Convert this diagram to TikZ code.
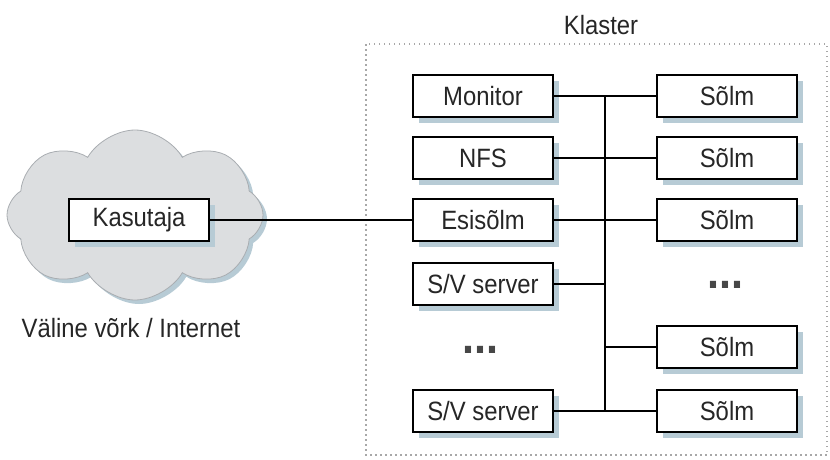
\documentclass[tikz,border=0pt]{standalone}
\usepackage{fontspec}
\setmainfont{Liberation Sans}[FakeStretch=0.9]
\usetikzlibrary{shapes.symbols,shadows}
\definecolor{txt}{HTML}{262626}
\definecolor{shade}{HTML}{B7CBD5}
\definecolor{cloudfill}{HTML}{DCDEE0}
\definecolor{cloudline}{HTML}{A9ADB1}
\definecolor{framegray}{HTML}{A8A8A8}
\tikzset{
  unit/.style={draw=black, line width=1.6pt, fill=white, text=txt,
    minimum width=140pt, minimum height=42pt, inner sep=0pt,
    font=\fontsize{26.5}{26.5}\selectfont,
    drop shadow={shadow xshift=6pt, shadow yshift=-6pt, fill=shade, opacity=1}},
  label/.style={text=txt, inner sep=0pt, font=\fontsize{26.5}{26.5}\selectfont},
  more/.style={text=txt!85, inner sep=0pt, font=\fontsize{48}{48}\selectfont\bfseries},
  wire/.style={line width=2.2pt, draw=black}
}
\begin{document}
\begin{tikzpicture}[x=1pt, y=-1pt]
\useasboundingbox (0,0) rectangle (830,459);

% external network cloud with its shadow
\node[cloud, cloud puffs=8, cloud puff arc=120, aspect=1.45,
  minimum width=256pt, minimum height=170pt, fill=shade, inner sep=0pt]
  (cloudshadow) at (139,219) {};
\node[cloud, cloud puffs=8, cloud puff arc=120, aspect=1.45,
  minimum width=256pt, minimum height=170pt, fill=cloudfill,
  draw=cloudline, line width=0.8pt, inner sep=0pt]
  (cloud) at (135,215) {};
\node[label] (net) at (131,328) {Väline võrk / Internet};

% cluster frame
\draw[framegray, line width=1.2pt, dash pattern=on 1.5pt off 3.5pt]
  (366,44) rectangle (827,455);
\node[label] (cl) at (601,25) {Klaster};

% user
\node[unit] (user) at (139,220) {Kasutaja};

% left column
\node[unit] (mon) at (483,96) {Monitor};
\node[unit] (nfs) at (483,158) {NFS};
\node[unit] (front) at (483,220) {Esisõlm};
\node[unit] (sv1) at (483,284) {S/V server};
\node[more] (ldots) at (480,350) {...};
\node[unit] (sv2) at (483,411) {S/V server};

% right column
\node[unit] (n1) at (727,96) {Sõlm};
\node[unit] (n2) at (727,158) {Sõlm};
\node[unit] (n3) at (727,220) {Sõlm};
\node[more] (rdots) at (725,285) {...};
\node[unit] (n4) at (727,347) {Sõlm};
\node[unit] (n5) at (727,411) {Sõlm};

% bus
\coordinate (bt) at (605,96);
\coordinate (bb) at (605,411);
\draw[wire] (bt) -- (bb);
\draw[wire] (mon.east) -- (n1.west);
\draw[wire] (nfs.east) -- (n2.west);
\draw[wire] (front.east) -- (n3.west);
\draw[wire] (sv1.east) -- (sv1.east -| bt);
\draw[wire] (n4.west -| bt) -- (n4.west);
\draw[wire] (sv2.east) -- (n5.west);

% external link
\draw[wire] (user.east) -- (front.west);
\end{tikzpicture}
\end{document}
